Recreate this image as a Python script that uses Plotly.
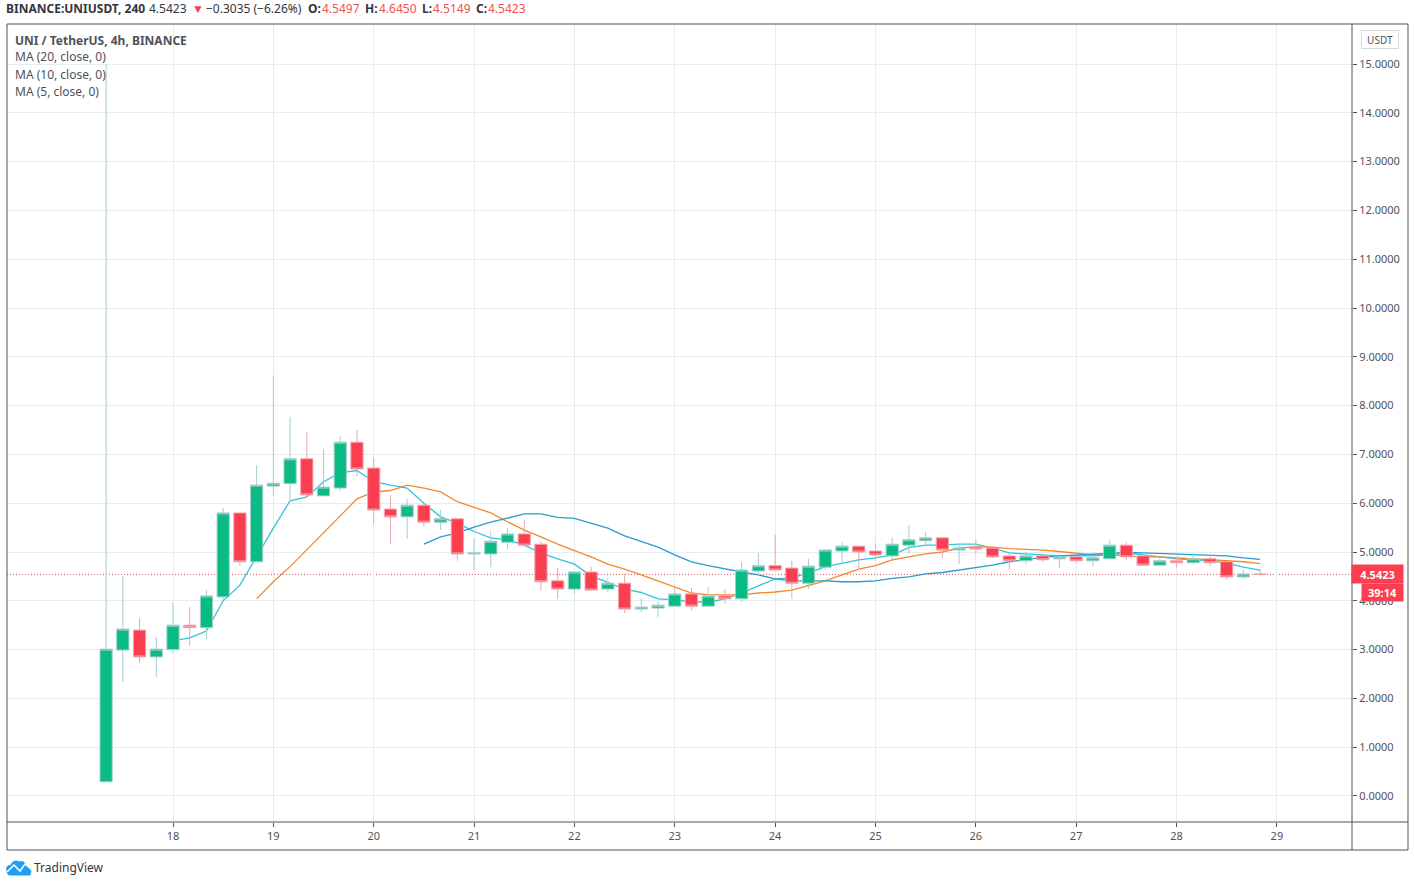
import pandas as pd
import plotly.graph_objects as go

times = pd.date_range("2020-09-17 08:00", periods=70, freq="4h")
opens = [0.29, 2.99, 3.40, 2.85, 3.00, 3.50, 3.45, 4.08, 5.80, 4.80, 6.35, 6.40, 6.91, 6.15, 6.31, 7.25, 6.72, 5.88,
         5.72, 5.96, 5.61, 5.68, 4.96, 4.96, 5.20, 5.37, 5.16, 4.41, 4.24, 4.59, 4.24, 4.36, 3.83, 3.85, 3.89, 4.14,
         3.89, 4.10, 4.04, 4.61, 4.72, 4.67, 4.36, 4.69, 5.02, 5.12, 5.02, 4.92, 5.14, 5.23, 5.29, 5.04, 5.10, 5.08,
         4.92, 4.82, 4.92, 4.86, 4.90, 4.82, 4.86, 5.14, 4.92, 4.73, 4.82, 4.78, 4.86, 4.80, 4.49, 4.5497]
highs = [15.00, 4.51, 3.65, 3.26, 3.96, 3.87, 4.22, 5.90, 5.80, 6.78, 8.61, 7.77, 7.46, 7.11, 7.38, 7.50, 6.93, 6.17,
         6.09, 6.00, 5.86, 5.68, 5.27, 5.43, 5.49, 5.66, 5.22, 4.67, 4.59, 4.69, 4.47, 4.55, 4.06, 3.98, 4.26, 4.26,
         4.28, 4.24, 4.80, 4.98, 5.35, 4.82, 4.86, 5.06, 5.20, 5.12, 5.18, 5.29, 5.55, 5.41, 5.31, 5.18, 5.25, 5.12,
         4.96, 5.00, 4.96, 4.96, 4.92, 4.92, 5.23, 5.20, 4.92, 4.90, 4.90, 4.98, 4.96, 4.82, 4.63, 4.6450]
lows = [0.29, 2.34, 2.73, 2.44, 2.94, 3.08, 3.22, 4.02, 4.72, 4.80, 6.15, 6.05, 6.13, 6.15, 6.26, 6.56, 5.59, 5.16,
        5.27, 5.53, 5.45, 4.82, 4.63, 4.69, 5.06, 5.14, 4.20, 4.04, 4.14, 4.22, 4.18, 3.75, 3.77, 3.67, 3.89, 3.81,
        3.89, 3.95, 3.98, 4.53, 4.63, 4.04, 4.24, 4.63, 4.80, 4.63, 4.82, 4.84, 4.96, 5.16, 4.88, 4.75, 4.96, 4.88,
        4.65, 4.75, 4.80, 4.67, 4.78, 4.71, 4.86, 4.84, 4.71, 4.71, 4.69, 4.75, 4.71, 4.43, 4.45, 4.5149]
closes = [3.01, 3.42, 2.85, 3.01, 3.50, 3.45, 4.10, 5.80, 4.80, 6.37, 6.41, 6.91, 6.17, 6.33, 7.25, 6.70, 5.86, 5.72,
          5.96, 5.61, 5.68, 4.96, 4.98, 5.22, 5.37, 5.14, 4.39, 4.24, 4.59, 4.22, 4.36, 3.83, 3.87, 3.91, 4.14, 3.89,
          4.10, 4.04, 4.63, 4.72, 4.63, 4.36, 4.71, 5.04, 5.12, 5.00, 4.94, 5.16, 5.25, 5.29, 5.04, 5.08, 5.06, 4.90,
          4.82, 4.92, 4.84, 4.90, 4.82, 4.88, 5.14, 4.90, 4.73, 4.82, 4.78, 4.86, 4.78, 4.49, 4.55, 4.5423]
ma5 = [3.18, 3.24, 3.38, 4.00, 4.32, 4.92, 5.49, 6.05, 6.13, 6.44, 6.62, 6.67, 6.44, 6.37, 6.31, 6.00, 5.72, 5.59,
       5.42, 5.29, 5.25, 5.14, 4.98, 4.86, 4.75, 4.51, 4.37, 4.24, 4.17, 4.04, 4.02, 3.98, 3.97, 4.04, 4.16, 4.30,
       4.45, 4.47, 4.57, 4.70, 4.77, 4.84, 4.88, 4.94, 5.09, 5.14, 5.14, 5.16, 5.16, 5.08, 4.98, 4.96, 4.94, 4.92,
       4.92, 4.92, 4.94, 4.98, 4.94, 4.90, 4.86, 4.84, 4.82, 4.77, 4.69, 4.63]
ma10 = [4.04, 4.39, 4.70, 5.04, 5.39, 5.74, 6.09, 6.23, 6.26, 6.37, 6.31, 6.23, 6.03, 5.92, 5.80, 5.62, 5.45, 5.31,
        5.16, 5.03, 4.90, 4.75, 4.65, 4.53, 4.41, 4.28, 4.16, 4.12, 4.12, 4.12, 4.16, 4.18, 4.22, 4.32, 4.41, 4.53,
        4.65, 4.72, 4.84, 4.90, 4.96, 5.00, 5.08, 5.11, 5.10, 5.07, 5.06, 5.04, 5.01, 4.98, 4.94, 4.94, 4.92, 4.90,
        4.90, 4.88, 4.86, 4.85, 4.82, 4.80, 4.76]
ma20 = [5.16, 5.31, 5.39, 5.51, 5.61, 5.70, 5.78, 5.78, 5.71, 5.69, 5.59, 5.49, 5.33, 5.21, 5.10, 4.94, 4.80, 4.72,
        4.65, 4.59, 4.53, 4.45, 4.41, 4.41, 4.41, 4.39, 4.39, 4.41, 4.46, 4.49, 4.55, 4.58, 4.63, 4.69, 4.73, 4.80,
        4.85, 4.89, 4.92, 4.94, 4.95, 4.97, 4.99, 4.98, 4.97, 4.96, 4.95, 4.94, 4.92, 4.88, 4.85]
last_price = 4.5423
price_ticks = list(range(16))
day_ticks = pd.date_range("2020-09-18", periods=12, freq="D")
day_labels = ["18", "19", "20", "21", "22", "23", "24", "25", "26", "27", "28", "29"]
header_texts = ["<b>BINANCE:UNIUSDT, 240</b>", "4.5423", "▼", "−0.3035 (−6.26%)", "<b>O:</b>", "4.5497", "<b>H:</b>",
                "4.6450", "<b>L:</b>", "4.5149", "<b>C:</b>", "4.5423"]
header_lefts = [4, 147, 190, 204, 306, 320, 363, 377, 420, 431, 474, 486]
header_colors = ["#33363e", "#33363e", "#fc3f50", "#33363e", "#33363e", "#ef5350", "#33363e", "#ef5350", "#33363e",
                 "#ef5350", "#33363e", "#ef5350"]

x_range = ["2020-09-16 08:18", "2020-09-29 17:58"]
y_range = [-0.533, 15.82]
grid = "#e4eef1"
frame = "#50535e"
text = "#4f5258"
font = "Noto Sans"
up = "#0bbb84"
down = "#fc3f50"

fig = go.Figure()
fig.add_trace(go.Scatter(x=times[4:], y=ma5, mode="lines", line=dict(color="#2ec5dc", width=1.3), name="MA 5"))
fig.add_trace(go.Scatter(x=times[9:], y=ma10, mode="lines", line=dict(color="#f08a2c", width=1.3), name="MA 10"))
fig.add_trace(go.Scatter(x=times[19:], y=ma20, mode="lines", line=dict(color="#2a9ccf", width=1.3), name="MA 20"))
fig.add_trace(go.Candlestick(x=times, open=opens, high=highs, low=lows, close=closes, xaxis="x2", yaxis="y2",
                             increasing=dict(fillcolor=up, line=dict(color="#a6cdcf", width=1)),
                             decreasing=dict(fillcolor=down, line=dict(color="#efa6ae", width=1)),
                             name="UNIUSDT"))

# header above the frame
for left, label, color in zip(header_lefts, header_texts, header_colors):
    fig.add_annotation(x=left, y=9, text=label, font=dict(size=12, color=color))
fig.add_annotation(x=13, y=40, text="<b>UNI / TetherUS, 4h, BINANCE</b>", font=dict(size=12, color=text))
fig.add_annotation(x=13, y=57, text="MA (20, close, 0)", font=dict(size=12, color=text))
fig.add_annotation(x=13, y=74, text="MA (10, close, 0)", font=dict(size=12, color=text))
fig.add_annotation(x=13, y=91, text="MA (5, close, 0)", font=dict(size=12, color=text))
fig.add_annotation(x=32, y=867, text="TradingView", font=dict(size=12, color="#33363e"))
fig.update_annotations(xref="paper", yref="paper", xanchor="left", yanchor="middle", showarrow=False)
for note in fig.layout.annotations:
    note.x = (note.x - 7) / 1345
    note.y = (822 - note.y) / 798

fig.add_annotation(x=(1380 - 7) / 1345, y=(822 - 39) / 798, xref="paper", yref="paper", text="USDT", showarrow=False,
                   xanchor="center", yanchor="middle", font=dict(size=10, color=text), bordercolor="#d5d8dd",
                   borderwidth=1, width=34, height=15)
fig.add_annotation(x=(1377.5 - 7) / 1345, y=(822 - 573.5) / 798, xref="paper", yref="paper", text="<b>4.5423</b>",
                   showarrow=False, xanchor="center", yanchor="middle", font=dict(size=11, color="white"), bgcolor=down,
                   width=49, height=16)
fig.add_annotation(x=(1382.5 - 7) / 1345, y=(822 - 592) / 798, xref="paper", yref="paper", text="<b>39:14</b>",
                   showarrow=False, xanchor="center", yanchor="middle", font=dict(size=11, color="white"), bgcolor=down,
                   width=39, height=15)

fig.add_hline(y=last_price, line=dict(color="#d8505c", width=1, dash="1px,2px"), layer="below")
# outer frame of the widget, the price scale and the time scale
fig.add_shape(type="rect", xref="paper", yref="paper", x0=0, x1=1401 / 1345, y0=-28 / 798, y1=1,
              line=dict(color=frame, width=1))
fig.add_shape(type="line", xref="paper", yref="paper", x0=1, x1=1, y0=-28 / 798, y1=1, line=dict(color=frame, width=1))
fig.add_shape(type="line", xref="paper", yref="paper", x0=0, x1=1401 / 1345, y0=0, y1=0, line=dict(color=frame, width=1))
# logo
fig.add_shape(type="path", xref="paper", yref="paper", fillcolor="#1e9ff2", line=dict(color="#1e9ff2", width=1),
              path="M %f %f Q %f %f %f %f Q %f %f %f %f Q %f %f %f %f Q %f %f %f %f L %f %f Q %f %f %f %f Z" % (
                  (7 - 7) / 1345, (822 - 871) / 798,
                  (5 - 7) / 1345, (822 - 866) / 798, (11 - 7) / 1345, (822 - 865) / 798,
                  (13 - 7) / 1345, (822 - 859) / 798, (20 - 7) / 1345, (822 - 862) / 798,
                  (24 - 7) / 1345, (822 - 860) / 798, (26 - 7) / 1345, (822 - 866) / 798,
                  (33 - 7) / 1345, (822 - 868) / 798, (30 - 7) / 1345, (822 - 875) / 798,
                  (10 - 7) / 1345, (822 - 875) / 798,
                  (7 - 7) / 1345, (822 - 875) / 798, (7 - 7) / 1345, (822 - 871) / 798))
fig.add_shape(type="path", xref="paper", yref="paper", line=dict(color="white", width=1.5),
              path="M %f %f L %f %f L %f %f L %f %f L %f %f" % (
                  (7 - 7) / 1345, (822 - 872) / 798, (14 - 7) / 1345, (822 - 865) / 798,
                  (20 - 7) / 1345, (822 - 871) / 798, (25 - 7) / 1345, (822 - 864) / 798,
                  (32 - 7) / 1345, (822 - 870) / 798))

fig.update_layout(
    width=1414, height=888, margin=dict(l=7, r=62, t=24, b=66), autosize=False,
    paper_bgcolor="white", plot_bgcolor="white", showlegend=False, boxgap=0.27, boxgroupgap=0,
    font=dict(family=font, size=11, color=text),
    xaxis=dict(type="date", range=x_range, tickvals=day_ticks, ticktext=day_labels, ticks="outside", ticklen=4,
               tickcolor=frame, showgrid=True, gridcolor=grid, gridwidth=1, zeroline=False,
               tickfont=dict(size=11, color=text)),
    yaxis=dict(side="right", range=y_range, tickvals=price_ticks, tickformat=".4f", ticks="outside", ticklen=4,
               tickcolor=frame, showgrid=True, gridcolor=grid, gridwidth=1, zeroline=False,
               tickfont=dict(size=11, color=text)),
    xaxis2=dict(type="date", range=x_range, overlaying="x", visible=False, rangeslider=dict(visible=False)),
    yaxis2=dict(range=y_range, overlaying="y", visible=False),
)

fig.write_html("out.html", config={"displayModeBar": False},
               post_script="document.body.style.margin = '0'; document.body.style.overflow = 'hidden';")
